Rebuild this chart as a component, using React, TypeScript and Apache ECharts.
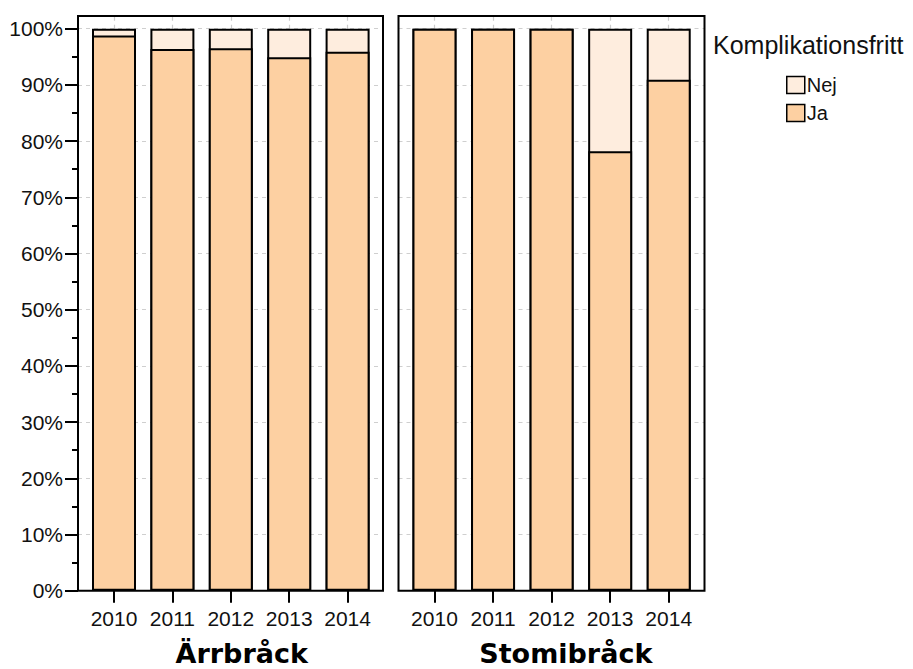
import React, { useEffect, useRef } from "react";
import * as echarts from "echarts";

const years = ["2010", "2011", "2012", "2013", "2014"];
const panels = ["Ärrbråck", "Stomibråck"];
const jaArr = [98.8, 96.4, 96.5, 94.9, 95.9];
const nejArr = [1.2, 3.6, 3.5, 5.1, 4.1];
const jaStomi = [100, 100, 100, 78.2, 90.9];
const nejStomi = [0, 0, 0, 21.8, 9.1];
const legendTitle = "Komplikationsfritt";
const seriesNames = ["Nej", "Ja"];
const colors: Record<string, string> = { Ja: "#fdd0a2", Nej: "#feedde" };

const FONT = "Liberation Sans, Arial, Helvetica, sans-serif";

export default function App() {
  const ref = useRef<HTMLDivElement>(null);
  useEffect(() => {
    if (!ref.current) return;
    const chart = echarts.init(ref.current, undefined, { renderer: "svg" });
    const frameLefts = [78, 398.5];
    const frameW = [305, 306];
    const bandLefts = [84.8, 405.2];
    const bandW = [292, 292.8];
    const gridTop = 28.7;
    const gridH = 562;
    const frameTop = 16;

    const grids: any[] = [];
    const xAxes: any[] = [];
    const yAxes: any[] = [];

    [0, 1].forEach((g) => {
      grids.push({ left: bandLefts[g], top: gridTop, width: bandW[g], height: gridH });
      xAxes.push({
        type: "category",
        gridIndex: g,
        position: "bottom",
        data: years,
        axisLine: { show: false },
        axisTick: {
          show: true,
          interval: 0,
          alignWithLabel: true,
          length: 12,
          lineStyle: { color: "#000", width: 2 },
        },
        axisLabel: {
          interval: 0,
          hideOverlap: false,
          margin: 17,
          fontSize: 21,
          fontFamily: FONT,
          color: "#111",
        },
        splitLine: { show: false },
      });
      xAxes.push({
        type: "category",
        gridIndex: g,
        position: "top",
        data: years,
        axisLine: { show: false },
        axisTick: {
          show: true,
          interval: 0,
          alignWithLabel: true,
          length: 12,
          lineStyle: { color: "#cccccc", width: 1.2, type: [4, 4] },
        },
        axisLabel: { show: false },
        splitLine: { show: false },
      });
      yAxes.push({
        type: "value",
        gridIndex: g,
        min: 0,
        max: 100,
        interval: 10,
        axisLine: { show: false },
        axisTick: { show: false },
        axisLabel: { show: false },
        splitLine: { show: false },
      });
    });

    [0, 1].forEach((g) => {
      grids.push({ left: frameLefts[g], top: gridTop, width: frameW[g], height: gridH });
      xAxes.push({ type: "value", gridIndex: 2 + g, min: 0, max: 1, show: false });
      yAxes.push({
        type: "value",
        gridIndex: 2 + g,
        min: 0,
        max: 100,
        interval: 10,
        axisLine: { show: false },
        axisTick: { show: g === 0, length: 13, lineStyle: { color: "#000", width: 2 } },
        minorTick: {
          show: g === 0,
          splitNumber: 2,
          length: 6,
          lineStyle: { color: "#000", width: 2 },
        },
        axisLabel: {
          show: g === 0,
          margin: 15,
          fontSize: 21,
          fontFamily: FONT,
          color: "#111",
          formatter: (v: number) => `${v}%`,
        },
        splitLine: { show: true, lineStyle: { color: "#cfcfcf", width: 1.2, type: [4, 4] } },
      });
    });

    // Nej occupies the top of each 100% bar: drawn from 0 up to Ja + Nej,
    // with the Ja bar laid over it so that the boundary is a single line.
    const mk = (name: string, ja: number[], nej: number[], g: number) => ({
      type: "bar",
      name,
      xAxisIndex: g * 2,
      yAxisIndex: g,
      barWidth: 44,
      barGap: "-100%",
      z: name === "Ja" ? 3 : 2,
      data: name === "Ja" ? ja : ja.map((v, i) => +(v + nej[i]).toFixed(2)),
      itemStyle: { color: colors[name], borderColor: "#000", borderWidth: 2 },
      emphasis: { disabled: true },
    });

    const titleCenters = [241.7, 565.8];

    chart.setOption({
      animation: false,
      grid: grids,
      xAxis: xAxes,
      yAxis: yAxes,
      legend: {
        data: seriesNames,
        orient: "vertical",
        left: 786,
        top: 75,
        itemWidth: 18,
        itemHeight: 17,
        itemGap: 8,
        icon: "rect",
        padding: 0,
        itemStyle: { borderColor: "#000", borderWidth: 1.5 },
        textStyle: { fontSize: 20, fontFamily: FONT, color: "#111", padding: [0, 0, 0, -3] },
        selectedMode: false,
      },
      series: [
        mk("Nej", jaArr, nejArr, 0),
        mk("Ja", jaArr, nejArr, 0),
        mk("Nej", jaStomi, nejStomi, 1),
        mk("Ja", jaStomi, nejStomi, 1),
      ],
      graphic: [
        ...frameLefts.map((l, i) => ({
          type: "rect",
          z: 100,
          silent: true,
          shape: { x: l, y: frameTop, width: frameW[i], height: gridTop + gridH - frameTop },
          style: { fill: "none", stroke: "#000", lineWidth: 2 },
        })),
        ...panels.map((p, i) => ({
          type: "text",
          z: 100,
          x: titleCenters[i],
          y: 653,
          style: {
            text: p,
            font: "bold 27px 'DejaVu Sans', sans-serif",
            fill: "#000",
            textAlign: "center",
            textVerticalAlign: "middle",
          },
        })),
        {
          type: "text",
          z: 100,
          x: 713,
          y: 45,
          style: {
            text: legendTitle,
            font: "25px 'Liberation Sans', Arial, sans-serif",
            fill: "#111",
            textAlign: "left",
            textVerticalAlign: "middle",
          },
        },
      ],
    });
    return () => chart.dispose();
  }, []);
  return (
    <div
      ref={ref}
      style={{ position: "absolute", left: 0, top: 0, width: 913, height: 669, background: "#fff" }}
    />
  );
}
